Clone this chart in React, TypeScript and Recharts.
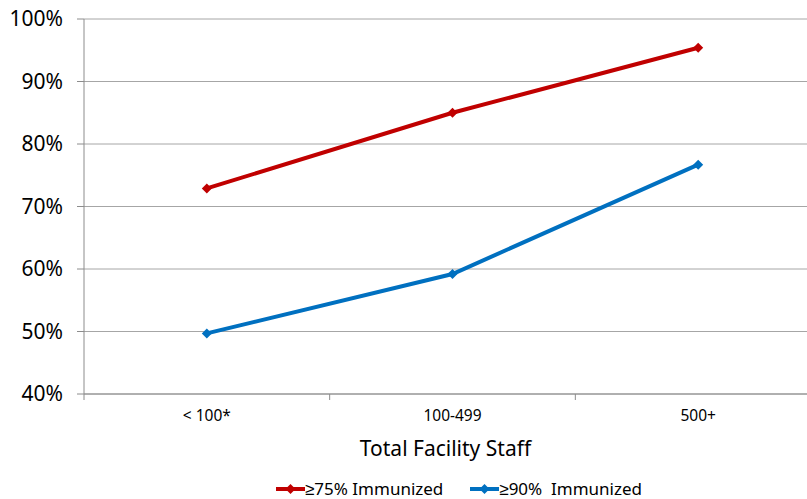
import { CartesianGrid, Legend, Line, LineChart, XAxis, YAxis } from "recharts";

const categories = ["< 100*", "100-499", "500+"];
const immunized75 = [72.9, 85.0, 95.4];
const immunized90 = [49.7, 59.2, 76.7];
const yTicks = [40, 50, 60, 70, 80, 90, 100];
const xTicks = [0, 0.5, 1, 1.5, 2, 2.5, 3];

const RED = "#C00000";
const BLUE = "#0070C0";
const FONT = "'Noto Sans', sans-serif";

const data = categories.map((name, i) => ({
	x: i + 0.5,
	name,
	p75: immunized75[i],
	p90: immunized90[i],
}));

const Diamond = (props: any) => {
	const { cx, cy, stroke } = props;
	if (cx == null || cy == null) return null;
	const r = 5;
	return <polygon points={`${cx},${cy - r} ${cx + r},${cy} ${cx},${cy + r} ${cx - r},${cy}`} fill={stroke} />;
};

// integer ticks = category boundaries (tick marks), half ticks = category labels
const XTick = (props: any) => {
	const { x, y, payload } = props;
	const v = payload.value;
	if (Number.isInteger(v)) {
		return <line x1={x} x2={x} y1={y} y2={y + 6} stroke="#8c8c8c" />;
	}
	return (
		<text x={x} y={y + 27} textAnchor="middle" fontSize={15.5} fill="#000" fontFamily={FONT}>
			{categories[Math.floor(v)]}
		</text>
	);
};

const LegendIcon = ({ color }: { color: string }) => (
	<svg width={29} height={12} style={{ verticalAlign: "middle" }}>
		<line x1={0} x2={29} y1={6} y2={6} stroke={color} strokeWidth={4} />
		<polygon points="14.5,1 19.5,6 14.5,11 9.5,6" fill={color} />
	</svg>
);

const renderLegend = () => (
	<div style={{ display: "flex", paddingLeft: 276, fontFamily: FONT, fontSize: 17, color: "#000", whiteSpace: "pre" }}>
		<span style={{ marginRight: 27, display: "flex", alignItems: "center" }}>
			<LegendIcon color={RED} />≥75% Immunized
		</span>
		<span style={{ display: "flex", alignItems: "center" }}>
			<LegendIcon color={BLUE} />≥90%  Immunized
		</span>
	</div>
);

export default function App() {
	return (
		<div style={{ position: "absolute", left: 0, top: 0, width: 807, height: 499, overflow: "hidden", background: "#fff" }}>
			<LineChart width={821} height={499} data={data} margin={{ top: 19, right: 0, bottom: 0, left: 0 }}>
				<CartesianGrid horizontal vertical={false} stroke="#a6a6a6" />
				<XAxis
					dataKey="x"
					type="number"
					domain={[0, 3]}
					ticks={xTicks}
					interval={0}
					height={105}
					tickSize={0}
					tickMargin={0}
					tickLine={false}
					stroke="#8c8c8c"
					tick={<XTick />}
					label={{ value: "Total Facility Staff", position: "insideTop", offset: 47, dx: -7, fontSize: 21, fill: "#000", fontFamily: FONT }}
				/>
				<YAxis
					type="number"
					domain={[40, 100]}
					ticks={yTicks}
					interval={0}
					width={84}
					tickSize={7}
					tickMargin={14}
					stroke="#8c8c8c"
					tickFormatter={(v: number) => `${v}%`}
					tick={{ fill: "#000", fontSize: 21, fontFamily: FONT }}
				/>
				<Legend
					layout="horizontal"
					verticalAlign="middle"
					align="center"
					content={renderLegend}
					wrapperStyle={{ top: 477, left: 0, width: 821 }}
				/>
				<Line dataKey="p75" name="≥75% Immunized" stroke={RED} strokeWidth={4} dot={<Diamond />} activeDot={false} isAnimationActive={false} />
				<Line dataKey="p90" name="≥90%  Immunized" stroke={BLUE} strokeWidth={4} dot={<Diamond />} activeDot={false} isAnimationActive={false} />
			</LineChart>
		</div>
	);
}
